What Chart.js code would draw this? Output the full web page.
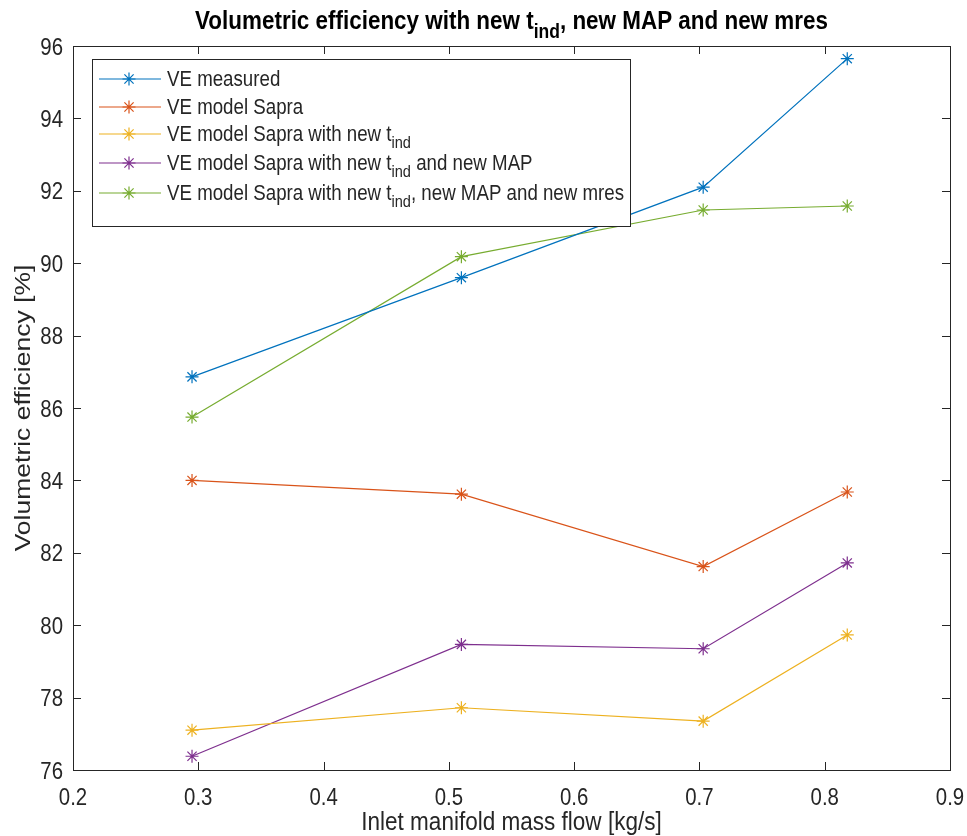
<!DOCTYPE html>
<html>
<head>
<meta charset="utf-8">
<script src="https://cdn.jsdelivr.net/npm/chart.js@4/dist/chart.umd.min.js"></script>
<style>
  html, body { margin: 0; padding: 0; background: #fff; }
  #wrap { width: 967px; height: 836px; }
</style>
</head>
<body>
<div id="wrap"><canvas id="c" width="967" height="836"></canvas></div>
<script>
// Inlet manifold mass flow [kg/s] at each operating point
const massFlow = [0.295, 0.51, 0.703, 0.818];

// Volumetric efficiency [%] per series
const veMeasured     = [86.86, 89.60, 92.10, 95.65];
const veSapra        = [84.00, 83.62, 81.62, 83.68];
const veSapraTind    = [77.10, 77.72, 77.35, 79.73];
const veSapraTindMap = [76.38, 79.47, 79.35, 81.72];
const veSapraAll     = [85.75, 90.18, 91.47, 91.58];

// Axis ticks
const xTicks = [0.2, 0.3, 0.4, 0.5, 0.6, 0.7, 0.8, 0.9];
const yTicks = [76, 78, 80, 82, 84, 86, 88, 90, 92, 94, 96];

// Legend entries: [main text, subscript, trailing text]
const seriesNames = [
  ['VE measured', '', ''],
  ['VE model Sapra', '', ''],
  ['VE model Sapra with new t', 'ind', ''],
  ['VE model Sapra with new t', 'ind', ' and new MAP'],
  ['VE model Sapra with new t', 'ind', ', new MAP and new mres']
];
const seriesColors = ['#0072BD', '#D95319', '#EDB120', '#7E2F8E', '#77AC30'];
const seriesValues = [veMeasured, veSapra, veSapraTind, veSapraTindMap, veSapraAll];

const FONT = '"Liberation Sans", Arial, Helvetica, sans-serif';
const INK = '#262626';
const SQUEEZE = 0.85;   // horizontal glyph compression of all text

const datasets = seriesValues.map((vals, i) => ({
  label: seriesNames[i].join(''),
  data: vals.map((v, k) => ({ x: massFlow[k], y: v })),
  borderColor: seriesColors[i],
  backgroundColor: seriesColors[i],
  borderWidth: 1.2,
  showLine: true,
  tension: 0,
  pointStyle: 'star',
  pointRadius: 6.5,
  pointBorderWidth: 1.2,
  pointHoverRadius: 6.5
}));

// Width of a text run at the given size (before squeezing)
function runWidth(ctx, s, size, bold) {
  ctx.font = (bold ? 'bold ' : '') + size + 'px ' + FONT;
  return ctx.measureText(s).width;
}

// Draws [text, subscript, text] squeezed horizontally; (x, y) is the anchor, y is the baseline
function drawText(ctx, x, y, parts, size, bold, align, color) {
  const sub = size * 0.78;
  const w0 = runWidth(ctx, parts[0], size, bold);
  const w1 = parts[1] ? runWidth(ctx, parts[1], sub, bold) : 0;
  const w2 = parts[2] ? runWidth(ctx, parts[2], size, bold) : 0;
  const total = (w0 + w1 + w2) * SQUEEZE;
  let sx = x;
  if (align === 'center') sx = x - total / 2;
  else if (align === 'right') sx = x - total;
  ctx.save();
  ctx.translate(sx, y);
  ctx.scale(SQUEEZE, 1);
  ctx.fillStyle = color;
  ctx.textAlign = 'left';
  ctx.textBaseline = 'alphabetic';
  ctx.font = (bold ? 'bold ' : '') + size + 'px ' + FONT;
  ctx.fillText(parts[0], 0, 0);
  if (parts[1]) {
    ctx.font = (bold ? 'bold ' : '') + sub + 'px ' + FONT;
    ctx.fillText(parts[1], w0, size * 0.33);
  }
  if (parts[2]) {
    ctx.font = (bold ? 'bold ' : '') + size + 'px ' + FONT;
    ctx.fillText(parts[2], w0 + w1, 0);
  }
  ctx.restore();
}

// Axes box with inward ticks on all sides, tick labels, axis titles, title and legend
const decorations = {
  id: 'decorations',
  afterDatasetsDraw(chart) {
    const ctx = chart.ctx;
    const a = chart.chartArea;
    const xs = chart.scales.x, ys = chart.scales.y;
    const tl = 8;
    ctx.save();
    ctx.strokeStyle = INK;
    ctx.lineWidth = 1;
    ctx.beginPath();
    xs.ticks.forEach(t => {
      const px = Math.round(xs.getPixelForValue(t.value)) + 0.5;
      ctx.moveTo(px, a.bottom); ctx.lineTo(px, a.bottom - tl);
      ctx.moveTo(px, a.top); ctx.lineTo(px, a.top + tl);
    });
    ys.ticks.forEach(t => {
      const py = Math.round(ys.getPixelForValue(t.value)) + 0.5;
      ctx.moveTo(a.left, py); ctx.lineTo(a.left + tl, py);
      ctx.moveTo(a.right, py); ctx.lineTo(a.right - tl, py);
    });
    ctx.stroke();
    ctx.strokeRect(Math.round(a.left) + 0.5, Math.round(a.top) + 0.5,
      Math.round(a.right - a.left), Math.round(a.bottom - a.top));

    // Tick labels
    const tickSize = 24;
    xs.ticks.forEach(t => {
      drawText(ctx, xs.getPixelForValue(t.value), a.bottom + 35, [t.value.toFixed(1), '', ''],
        tickSize, false, 'center', INK);
    });
    ys.ticks.forEach(t => {
      drawText(ctx, a.left - 10, ys.getPixelForValue(t.value) + 8.5, [String(t.value), '', ''],
        tickSize, false, 'right', INK);
    });

    // Axis titles
    drawText(ctx, (a.left + a.right) / 2, 830, ['Inlet manifold mass flow [kg/s]', '', ''],
      26.5, false, 'center', INK);
    ctx.save();
    ctx.translate(30, (a.top + a.bottom) / 2);
    ctx.rotate(-Math.PI / 2);
    ctx.scale(1 / SQUEEZE, SQUEEZE);
    drawText(ctx, 0, 0, ['Volumetric efficiency [%]', '', ''], 26.5, false, 'center', INK);
    ctx.restore();

    // Title
    drawText(ctx, (a.left + a.right) / 2, 29,
      ['Volumetric efficiency with new t', 'ind', ', new MAP and new mres'], 26.4, true, 'center', '#000');

    // Legend
    const lx = 92.5, ly = 59.5, lw = 538, lh = 167;
    ctx.fillStyle = '#fff';
    ctx.fillRect(lx, ly, lw, lh);
    ctx.strokeStyle = INK;
    ctx.lineWidth = 1;
    ctx.strokeRect(lx, ly, lw, lh);
    const rowY = [79, 107, 134, 163, 193];
    seriesNames.forEach((p, i) => {
      const y = rowY[i];
      const c = seriesColors[i];
      ctx.strokeStyle = c;
      ctx.lineWidth = 1.2;
      ctx.beginPath();
      ctx.moveTo(99, y); ctx.lineTo(161, y);
      ctx.stroke();
      Chart.helpers.drawPoint(ctx, { pointStyle: 'star', radius: 6.5, rotation: 0, borderWidth: 1.2 }, 129, y);
      drawText(ctx, 167, y + 7, p, 22, false, 'left', INK);
    });
    ctx.restore();
  }
};

new Chart(document.getElementById('c'), {
  type: 'scatter',
  data: { datasets },
  plugins: [decorations],
  options: {
    responsive: false,
    animation: false,
    events: [],
    layout: { padding: { top: 46, right: 17, bottom: 0, left: 0 } },
    plugins: { legend: { display: false }, title: { display: false }, tooltip: { enabled: false } },
    scales: {
      x: {
        type: 'linear', min: 0.2, max: 0.9,
        afterBuildTicks: (s) => { s.ticks = xTicks.map(v => ({ value: v })); },
        afterFit: (s) => { s.height = 66; s.paddingLeft = 0; s.paddingRight = 0; },
        grid: { display: false, drawTicks: false },
        border: { display: false },
        ticks: { display: false }
      },
      y: {
        type: 'linear', min: 76, max: 96,
        afterBuildTicks: (s) => { s.ticks = yTicks.map(v => ({ value: v })); },
        afterFit: (s) => { s.width = 73; s.paddingTop = 0; s.paddingBottom = 0; },
        grid: { display: false, drawTicks: false },
        border: { display: false },
        ticks: { display: false }
      }
    }
  }
});
</script>
</body>
</html>
